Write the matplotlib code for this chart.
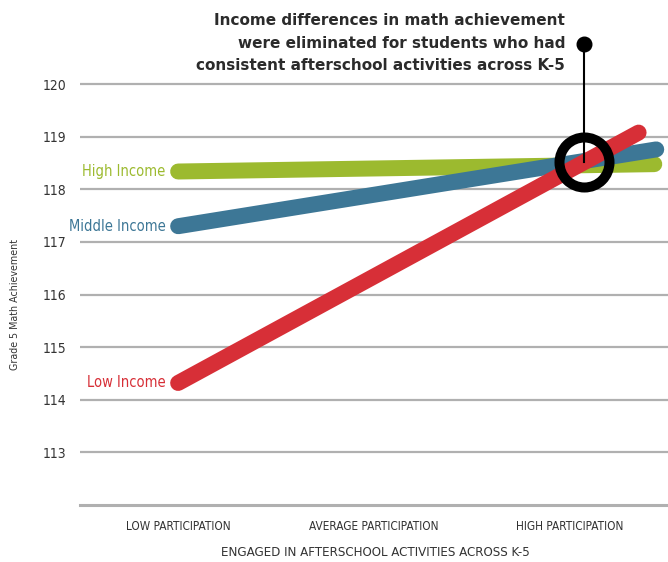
import matplotlib.pyplot as plt

# data
participation = ['LOW PARTICIPATION', 'AVERAGE PARTICIPATION', 'HIGH PARTICIPATION']
groups = ['High Income', 'Middle Income', 'Low Income']
x_start = [0, 0, 0]
x_end = [2.43, 2.44, 2.35]
y_start = [118.34, 117.30, 114.32]
y_end = [118.48, 118.76, 119.08]
colors = ['#9cba2f', '#3d7796', '#d72f37']
y_ticks = [113, 114, 115, 116, 117, 118, 119, 120]
cross_x = 2.07
cross_y = 118.52
note_y = 120.77
note = ('Income differences in math achievement\n'
        'were eliminated for students who had\n'
        'consistent afterschool activities across K-5')

fig = plt.figure(figsize=(6.68, 5.62), dpi=100)
ax = fig.add_axes([0.12, 0.1014, 0.88, 0.7956])
ax.set_xlim(-0.5, 2.5)
ax.set_ylim(112, 120.5)

for y in y_ticks:
    ax.axhline(y, color='#b0b0b0', lw=1.6, zorder=1)
ax.axhline(112, color='#b0b0b0', lw=2.2, zorder=1, clip_on=False)

for i, g in enumerate(groups):
    ax.plot([x_start[i], x_end[i]], [y_start[i], y_end[i]], color=colors[i],
            lw=11.5, solid_capstyle='round', zorder=3)
    ax.text(x_start[i] - 0.065, y_start[i], g, color=colors[i], ha='right',
            va='center', fontsize=10.5, fontstretch='condensed')

# callout
ax.plot([cross_x, cross_x], [cross_y, note_y], color='black', lw=1.5,
        zorder=4, clip_on=False)
ax.plot([cross_x], [note_y], 'o', color='black', ms=10.5, zorder=5, clip_on=False)
ax.plot([cross_x], [cross_y], 'o', ms=36, mfc='none', mec='black', mew=7.2,
        zorder=6)
fig.text(565 / 668, 1 - 43 / 562, note, ha='right', va='center', fontsize=11,
         fontweight='bold', color='#2b2b2b', linespacing=1.6)

for s in ax.spines.values():
    s.set_visible(False)
ax.set_xticks([0, 1, 2])
ax.set_xticklabels(participation, fontsize=8.5, color='#333333',
                   fontstretch='condensed')
ax.set_yticks(y_ticks)
ax.set_yticklabels([str(v) for v in y_ticks], fontsize=10, color='#333333',
                   fontstretch='condensed')
ax.tick_params(length=0)
ax.tick_params(axis='x', pad=11)
ax.tick_params(axis='y', pad=10)
fig.text(375 / 668, 1 - 552 / 562, 'ENGAGED IN AFTERSCHOOL ACTIVITIES ACROSS K-5',
         ha='center', va='center', fontsize=9.5, color='#333333',
         fontstretch='condensed')
fig.text(0.022, 1 - 305 / 562, 'Grade 5 Math Achievement', rotation=90,
         ha='center', va='center', fontsize=7.7, color='#333333',
         fontstretch='condensed')

fig.savefig('out.png', dpi=100)
